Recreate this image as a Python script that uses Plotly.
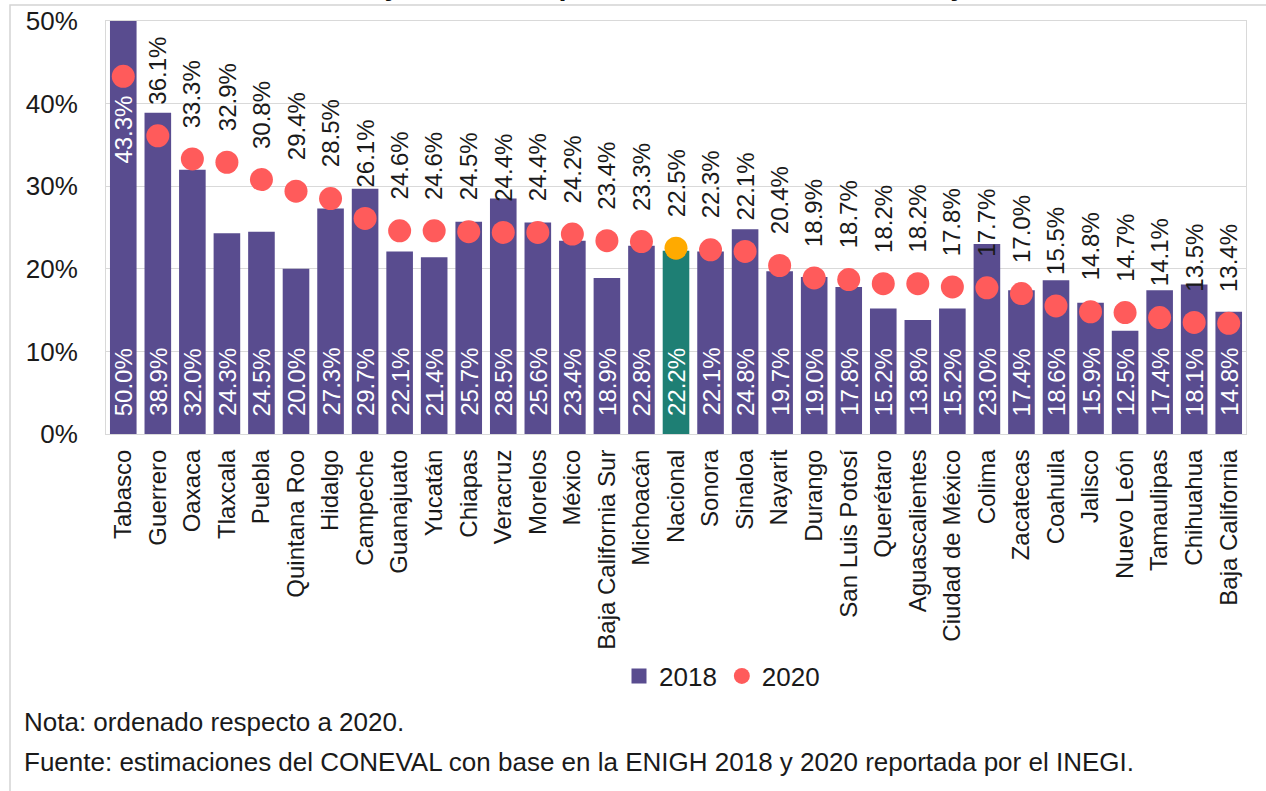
import plotly.graph_objects as go

estados = ["Tabasco", "Guerrero", "Oaxaca", "Tlaxcala", "Puebla", "Quintana Roo", "Hidalgo",
           "Campeche", "Guanajuato", "Yucatán", "Chiapas", "Veracruz", "Morelos", "México",
           "Baja California Sur", "Michoacán", "Nacional", "Sonora", "Sinaloa", "Nayarit",
           "Durango", "San Luis Potosí", "Querétaro", "Aguascalientes", "Ciudad de México",
           "Colima", "Zacatecas", "Coahuila", "Jalisco", "Nuevo León", "Tamaulipas",
           "Chihuahua", "Baja California"]
v2018 = [50.0, 38.9, 32.0, 24.3, 24.5, 20.0, 27.3, 29.7, 22.1, 21.4, 25.7, 28.5, 25.6, 23.4,
         18.9, 22.8, 22.2, 22.1, 24.8, 19.7, 19.0, 17.8, 15.2, 13.8, 15.2, 23.0, 17.4, 18.6,
         15.9, 12.5, 17.4, 18.1, 14.8]
v2020 = [43.3, 36.1, 33.3, 32.9, 30.8, 29.4, 28.5, 26.1, 24.6, 24.6, 24.5, 24.4, 24.4, 24.2,
         23.4, 23.3, 22.5, 22.3, 22.1, 20.4, 18.9, 18.7, 18.2, 18.2, 17.8, 17.7, 17.0, 15.5,
         14.8, 14.7, 14.1, 13.5, 13.4]
y_ticks = [0, 10, 20, 30, 40, 50]
y_tick_text = ["0%", "10%", "20%", "30%", "40%", "50%"]

FONT = "Liberation Sans, Arial, sans-serif"
PURPLE = "#594C8F"
TEAL = "#1E7F74"
RED = "#FF5B5B"
ORANGE = "#FFAA00"

bar_colors = [TEAL if e == "Nacional" else PURPLE for e in estados]
dot_colors = [ORANGE if e == "Nacional" else RED for e in estados]

fig = go.Figure()
fig.add_trace(go.Bar(x=estados, y=v2018, marker=dict(color=bar_colors, line=dict(width=0)),
                     showlegend=False, hoverinfo="x+y"))
fig.add_trace(go.Scatter(x=estados, y=v2020, mode="markers",
                         marker=dict(color=dot_colors, size=23, line=dict(width=0)),
                         showlegend=False))
# legend entries
fig.add_trace(go.Scatter(x=[None], y=[None], mode="markers", name="2018",
                         marker=dict(symbol="square", color=PURPLE, size=15)))
fig.add_trace(go.Scatter(x=[None], y=[None], mode="markers", name="2020",
                         marker=dict(symbol="circle", color=RED, size=17)))

ann = []
for e, a, b in zip(estados, v2018, v2020):
    ann.append(dict(x=e, y=0, text=f"{a:.1f}%", textangle=-90, showarrow=False,
                    yanchor="bottom", yshift=16, font=dict(color="white", size=24, family=FONT)))
    if b >= 40:
        ann.append(dict(x=e, y=b, text=f"{b:.1f}%", textangle=-90, showarrow=False,
                        yanchor="top", yshift=-17, font=dict(color="white", size=24, family=FONT)))
    else:
        ann.append(dict(x=e, y=b, text=f"{b:.1f}%", textangle=-90, showarrow=False,
                        yanchor="bottom", yshift=29, font=dict(color="#1a1a1a", size=24, family=FONT)))

# notes
ann.append(dict(xref="paper", yref="paper", x=(22 - 106) / 1140, y=(434 - 722) / 413,
                xanchor="left", yanchor="middle", showarrow=False,
                text="Nota: ordenado respecto a 2020.",
                font=dict(size=26, color="#1a1a1a", family=FONT)))
ann.append(dict(xref="paper", yref="paper", x=(22 - 106) / 1140, y=(434 - 762) / 413,
                xanchor="left", yanchor="middle", showarrow=False,
                text="Fuente: estimaciones del CONEVAL con base en la ENIGH 2018 y 2020 reportada por el INEGI.",
                font=dict(size=26, color="#1a1a1a", family=FONT)))
# title (cut off at the top in the source image)
ann.append(dict(xref="paper", yref="paper", x=(650 - 106) / 1140, y=(434 - 3) / 413,
                xanchor="center", yanchor="bottom", showarrow=False,
                text="<b>nutritiva y de calidad por entidad federativa, 2018 y 2020</b>",
                font=dict(size=29, color="#111111", family=FONT)))

shapes = [dict(type="rect", xref="paper", yref="paper",
               x0=(10 - 106) / 1140, x1=(1280 - 106) / 1140,
               y0=(434 - 805) / 413, y1=(434 - 5) / 413,
               line=dict(color="#d4d4d4", width=1.5), fillcolor="rgba(0,0,0,0)", layer="below")]

fig.update_layout(
    width=1266, height=791,
    margin=dict(l=106, r=20, t=21, b=357, pad=0),
    paper_bgcolor="white", plot_bgcolor="white",
    font=dict(family=FONT, size=24, color="#1a1a1a"),
    bargap=0.23,
    annotations=ann, shapes=shapes,
    legend=dict(orientation="h", x=(722 - 106) / 1140, y=(434 - 676) / 413,
                xanchor="center", yanchor="middle", font=dict(size=26, family=FONT),
                itemwidth=30, bgcolor="rgba(0,0,0,0)"),
)
fig.update_xaxes(type="category", range=[-0.5, len(estados) - 0.5], tickangle=-90,
                 tickfont=dict(size=24, family=FONT, color="#1a1a1a"), ticks="",
                 showline=True, linecolor="#d9d9d9", linewidth=1, mirror=True,
                 showgrid=False, ticklabelstandoff=5, automargin=False)
fig.update_yaxes(range=[0, 50], tickvals=y_ticks, ticktext=y_tick_text,
                 tickfont=dict(size=26, family=FONT, color="#1a1a1a"), ticks="",
                 showgrid=True, gridcolor="#d9d9d9", gridwidth=1,
                 showline=True, linecolor="#d9d9d9", linewidth=1, mirror=True,
                 zeroline=False, ticklabelstandoff=22, automargin=False)

fig.write_html("out.html", config={"displayModeBar": False},
               post_script="document.body.style.margin='0px';document.body.style.overflow='hidden';")
